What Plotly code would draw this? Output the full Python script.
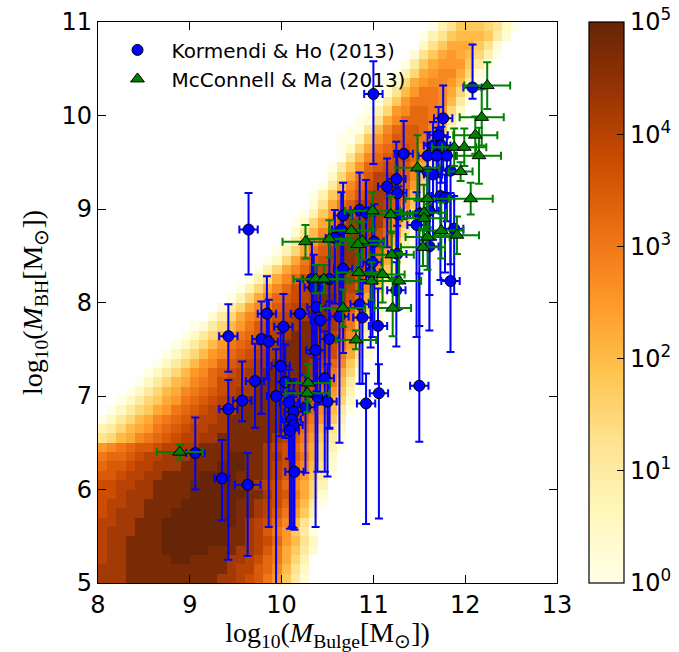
import plotly.graph_objects as go

# ---------------------------------------------------------------------------
# Model population: 2D histogram in (log M_Bulge, log M_BH).
# One string per 0.1-dex row in log M_BH (row 0 = 5.0-5.1), one character per
# 0.1-dex column in log M_Bulge starting at 8.0.  '.' marks an empty bin;
# otherwise the character's index in LEVELS is log10(N) in 0.25-dex steps.
# ---------------------------------------------------------------------------
LEVELS = "0123456789ABCDEFGHIJK"
HIST_X0, HIST_Y0, BIN, N_COLS = 8.0, 5.0, 0.1, 50
HIST_ROWS = [
    "HHHJJJJJJJJJJHHGFECA741",
    "HHHJJJJJJJJJJJHGGEDB852",
    "GHHJJJJJKKJJJJHHGFDC963",
    "GHHJJJJKKKKKJJJHHGEC9741",
    "GHHJJJJKKKKKKKJJHGFDA852",
    "GHHHJJJKKKKKKKJJHGECA740",
    "GGHHJJJKKKKKKKKJHGFDB851",
    "FGHHHJJJKKKKKKKJJHGECA73",
    "FGGHHJJJJKKKKKKJJHGFDB840",
    "FFGHHHJJJJKKKKKKJJHFEC961",
    "FFGGHHJJJJKKKKKJJHGFDB963",
    "EEFGGHHJJJJKKKKJJJHGECA740",
    "DEEFGGHHHJJJJKKKJJHGFDB851",
    "CDDEFGGHHHJJJJKKJJHHFEC962",
    "ABCDEEFGGHHJJJJJJJHGFDB9630",
    "5689BCDEFGGHHJJJJJJHGECA741",
    "34689ACDEFGGHHJJJJJJHFDB852",
    "024689BCDEFGGHJJJJJJHGECA73",
    ".024679ACDEFGHHJJJJJJHFDB840",
    "..024679ACDEFGHHJJJJJHGEC962",
    "...024689BCDEFGHHJJJJJHFDA73",
    "....024689BCDFGGHJJJJJHGEC840",
    ".....02468ABDEFGHHJJJJJHFC961",
    "......02468ABDEFGHHJJJJHGDB73",
    ".......02468ABDEFGHHJJJJHFC951",
    "........02468ACDEFGHJJJJHFDA61",
    ".........02468ACDEGGHJJJHGEB73",
    "..........01468ACEFGHHJJJHFC840",
    "............1469BCEFGHHJJHFDA61",
    ".............1469BCEFGHHJHGEB72",
    "..............0369BDEFGHJJHFD940",
    "...............0369BDFGHIIHGEB72",
    "................0369BDFGHIIHFD940",
    ".................0369BDFGHIHGEB72",
    "..................0269CEFHIIHFC940",
    "...................0369CEHIIHGEA61",
    "....................047ADFHIIHFC830",
    ".....................158BDFHIHFDA50",
    ".....................0269CEHHIHEB72",
    "......................037ADFGHHGD940",
    ".......................159CEGHHGEB72",
    ".......................037ACEGHHFC830",
    "........................048BDFGHGDA60",
    ".........................269CEGGFEB72",
    ".........................047ADEFFEC950",
    "..........................058BDEFFDB61",
    "..........................0269CDEFEB830",
    "..........................0037ACEEECA50",
    "...........................0048BDEEDB72",
    "............................0159BDDDC940",
    ".............................036ABDDCA62",
    "..............................047ACCCB840",
    "...............................158ACCB962",
    "...............................0269ABBA840",
    "................................0369ABB961",
    ".................................0479AAA740",
    "..................................1579A98630",
    "...................................257999751",
    "...................................0357888741",
    "....................................0357776520",
]

# ---------------------------------------------------------------------------
# Kormendi & Ho (2013): log M_Bulge, log M_BH, asymmetric BH errors, bulge error
# ---------------------------------------------------------------------------
kh_x = [12.08, 11.00, 11.76, 11.71, 11.65, 11.74, 11.33, 11.59, 11.69, 11.80,
        11.59, 11.65, 11.84, 11.25, 11.15, 11.26, 11.73, 11.78, 10.85, 10.92,
        10.67, 11.27, 11.50, 11.61, 11.47, 11.88, 10.65, 9.64, 10.58, 11.01,
        11.61, 10.99, 10.67, 11.26, 10.52, 10.97, 11.25, 11.84, 10.85, 10.33,
        10.35, 9.84, 10.20, 10.38, 10.42, 10.63, 10.88, 9.42, 10.02, 11.05,
        9.78, 9.86, 10.52, 10.37, 9.99, 9.71, 10.04, 10.47, 9.94, 10.39,
        10.08, 9.57, 9.42, 10.13, 10.26, 10.11, 10.13, 10.09, 10.92, 11.06,
        11.50, 9.06, 9.35, 9.63, 10.14, 10.50]
kh_y = [10.30, 10.23, 9.97, 9.79, 9.68, 9.68, 9.59, 9.57, 9.57, 9.57,
        9.40, 9.37, 9.41, 9.32, 9.24, 9.17, 9.14, 9.12, 8.99, 8.96,
        8.93, 8.94, 8.95, 8.98, 8.83, 8.79, 8.78, 8.78, 8.69, 8.65,
        8.60, 8.43, 8.36, 8.52, 8.25, 8.32, 8.13, 8.23, 7.98, 8.25,
        8.16, 7.88, 7.88, 7.95, 7.81, 7.85, 7.84, 7.64, 7.74, 7.75,
        7.61, 7.58, 7.61, 7.49, 7.32, 7.16, 7.15, 7.19, 7.00, 6.99,
        6.93, 6.95, 6.86, 6.83, 6.88, 6.75, 6.69, 6.63, 6.92, 7.03,
        7.11, 6.39, 6.12, 6.05, 6.19, 6.94]
kh_y_err_hi = [0.46, 0.35, 0.35, 0.30, 0.25, 0.20, 0.35, 0.25, 0.30, 0.20,
               0.30, 0.30, 0.25, 0.40, 0.30, 0.45, 0.30, 0.25, 0.40, 0.35,
               0.35, 0.30, 0.45, 0.40, 0.35, 0.35, 0.40, 0.39, 0.30, 0.40,
               0.45, 0.35, 0.30, 0.30, 0.40, 0.30, 0.30, 0.94, 0.40, 0.40,
               0.35, 0.40, 0.35, 0.45, 0.40, 0.45, 0.40, 0.34, 0.35, 0.40,
               0.40, 0.45, 0.40, 0.50, 0.35, 0.40, 0.40, 0.50, 0.50, 0.40,
               0.35, 0.42, 0.31, 0.35, 0.35, 0.30, 0.30, 0.30, 0.32, 0.31,
               1.20, 0.38, 0.41, 0.34, 0.60, 0.40]
kh_y_err_lo = [0.12, 0.75, 0.55, 0.45, 0.60, 0.40, 0.70, 0.80, 0.60, 0.70,
               0.60, 0.70, 1.00, 0.80, 0.65, 0.90, 0.90, 0.80, 0.90, 0.75,
               1.00, 0.80, 1.20, 0.90, 1.20, 0.70, 0.80, 0.48, 0.70, 0.90,
               0.90, 0.80, 0.90, 0.60, 1.60, 0.80, 0.60, 0.76, 0.85, 0.80,
               1.00, 0.70, 1.00, 0.90, 0.90, 1.35, 0.71, 0.38, 0.70, 0.62,
               0.80, 1.98, 0.95, 1.89, 0.75, 0.50, 0.60, 1.00, 2.10, 0.80,
               0.60, 0.22, 1.61, 0.60, 0.70, 1.15, 1.10, 1.05, 1.29, 1.34,
               0.60, 0.39, 0.45, 0.76, 0.62, 0.80]
kh_x_err = [0.10] * 71 + [0.10, 0.08, 0.14, 0.10, 0.10]

# ---------------------------------------------------------------------------
# McConnell & Ma (2013)
# ---------------------------------------------------------------------------
mm_x = [12.24, 12.18, 12.11, 11.88, 11.99, 12.15, 11.95, 11.48, 12.06, 11.59,
        10.99, 11.19, 11.55, 11.55, 10.76, 11.74, 11.91, 11.59, 10.52, 10.88,
        10.83, 11.54, 11.20, 10.26, 10.84, 10.98, 11.10, 11.28, 10.37, 10.46,
        10.67, 11.21, 10.81, 10.29, 10.28, 8.89]
mm_y = [10.32, 9.98, 9.79, 9.66, 9.66, 9.57, 9.40, 9.44, 9.11, 9.11,
        8.98, 8.94, 8.96, 8.90, 8.77, 8.77, 8.72, 8.70, 8.68, 8.66,
        8.62, 8.59, 8.51, 8.65, 8.32, 8.23, 8.30, 8.23, 8.25, 8.25,
        7.94, 7.94, 7.60, 7.14, 7.03, 6.40]
mm_x_err = [0.25, 0.24, 0.24, 0.24, 0.24, 0.24, 0.13, 0.24, 0.24, 0.24,
            0.30, 0.24, 0.24, 0.24, 0.24, 0.24, 0.24, 0.24, 0.24, 0.24,
            0.24, 0.24, 0.24, 0.25, 0.24, 0.24, 0.24, 0.24, 0.24, 0.24,
            0.24, 0.20, 0.22, 0.24, 0.24, 0.25]
mm_y_err = [0.25, 0.30, 0.20, 0.20, 0.20, 0.30, 0.10, 0.35, 0.17, 0.30,
            0.20, 0.20, 0.30, 0.20, 0.20, 0.30, 0.20, 0.35, 0.20, 0.20,
            0.25, 0.20, 0.25, 0.18, 0.20, 0.20, 0.30, 0.30, 0.15, 0.15,
            0.20, 0.30, 0.10, 0.20, 0.20, 0.08]

CBAR_TICKS = [0, 1, 2, 3, 4, 5]

# decode histogram rows into log10(N) grid
z = []
for row in HIST_ROWS:
    row = row.ljust(N_COLS, ".")
    z.append([None if ch == "." else LEVELS.index(ch) * 0.25 for ch in row])

BLUE, GREEN = "#0000ff", "#008000"
TICK_FONT = dict(family="DejaVu Sans", size=24, color="black")
LABEL_FONT = dict(family="Liberation Serif", size=28, color="black")

fig = go.Figure()
fig.add_trace(go.Heatmap(
    z=z, x0=HIST_X0 + BIN / 2, dx=BIN, y0=HIST_Y0 + BIN / 2, dy=BIN,
    colorscale="YlOrBr", zmin=0, zmax=5, showscale=True, hoverinfo="skip",
    colorbar=dict(
        x=1.0697, xanchor="left", xpad=0, y=0.5, yanchor="middle", len=1.0,
        lenmode="fraction", ypad=0, thickness=35, outlinewidth=1.2,
        outlinecolor="black", ticks="inside", ticklen=7, tickcolor="black",
        tickvals=CBAR_TICKS, ticktext=[f"10<sup>{t}</sup>" for t in CBAR_TICKS],
        tickfont=TICK_FONT,
    ),
))
fig.add_trace(go.Scatter(
    x=kh_x, y=kh_y, mode="markers", name="Kormendi & Ho (2013)",
    marker=dict(symbol="circle", size=11, color=BLUE, line=dict(color="black", width=1)),
    error_y=dict(type="data", symmetric=False, array=kh_y_err_hi, arrayminus=kh_y_err_lo,
                 color=BLUE, thickness=2, width=4),
    error_x=dict(type="data", array=kh_x_err, color=BLUE, thickness=2, width=4),
))
fig.add_trace(go.Scatter(
    x=mm_x, y=mm_y, mode="markers", name="McConnell & Ma (2013)",
    marker=dict(symbol="triangle-up", size=12, color=GREEN, line=dict(color="black", width=1)),
    error_y=dict(type="data", array=mm_y_err, color=GREEN, thickness=2, width=4),
    error_x=dict(type="data", array=mm_x_err, color=GREEN, thickness=2, width=4),
))

axis_common = dict(
    showline=True, linecolor="black", linewidth=1.2, mirror="allticks",
    ticks="inside", ticklen=8, tickwidth=1, tickcolor="black",
    showgrid=False, zeroline=False, tickfont=TICK_FONT, dtick=1,
)
fig.update_xaxes(range=[8, 13], tick0=8,
                 title=dict(text="log<sub>10</sub>(<i>M</i><sub>Bulge</sub>[M<sub>⊙</sub>])",
                            font=LABEL_FONT, standoff=11),
                 **axis_common)
fig.update_yaxes(range=[5, 11], tick0=5,
                 title=dict(text="log<sub>10</sub>(<i>M</i><sub>BH</sub>[M<sub>⊙</sub>])",
                            font=LABEL_FONT, standoff=10),
                 **axis_common)

fig.update_layout(
    width=679, height=652,
    margin=dict(l=98, r=122, t=22, b=69, autoexpand=False),
    paper_bgcolor="white", plot_bgcolor="white",
    showlegend=True,
    legend=dict(x=0.012, y=0.985, xanchor="left", yanchor="top",
                bgcolor="rgba(0,0,0,0)", borderwidth=0,
                font=dict(family="DejaVu Sans", size=20, color="black"),
                itemwidth=58, tracegroupgap=0),
)

fig.write_html("out.html")
